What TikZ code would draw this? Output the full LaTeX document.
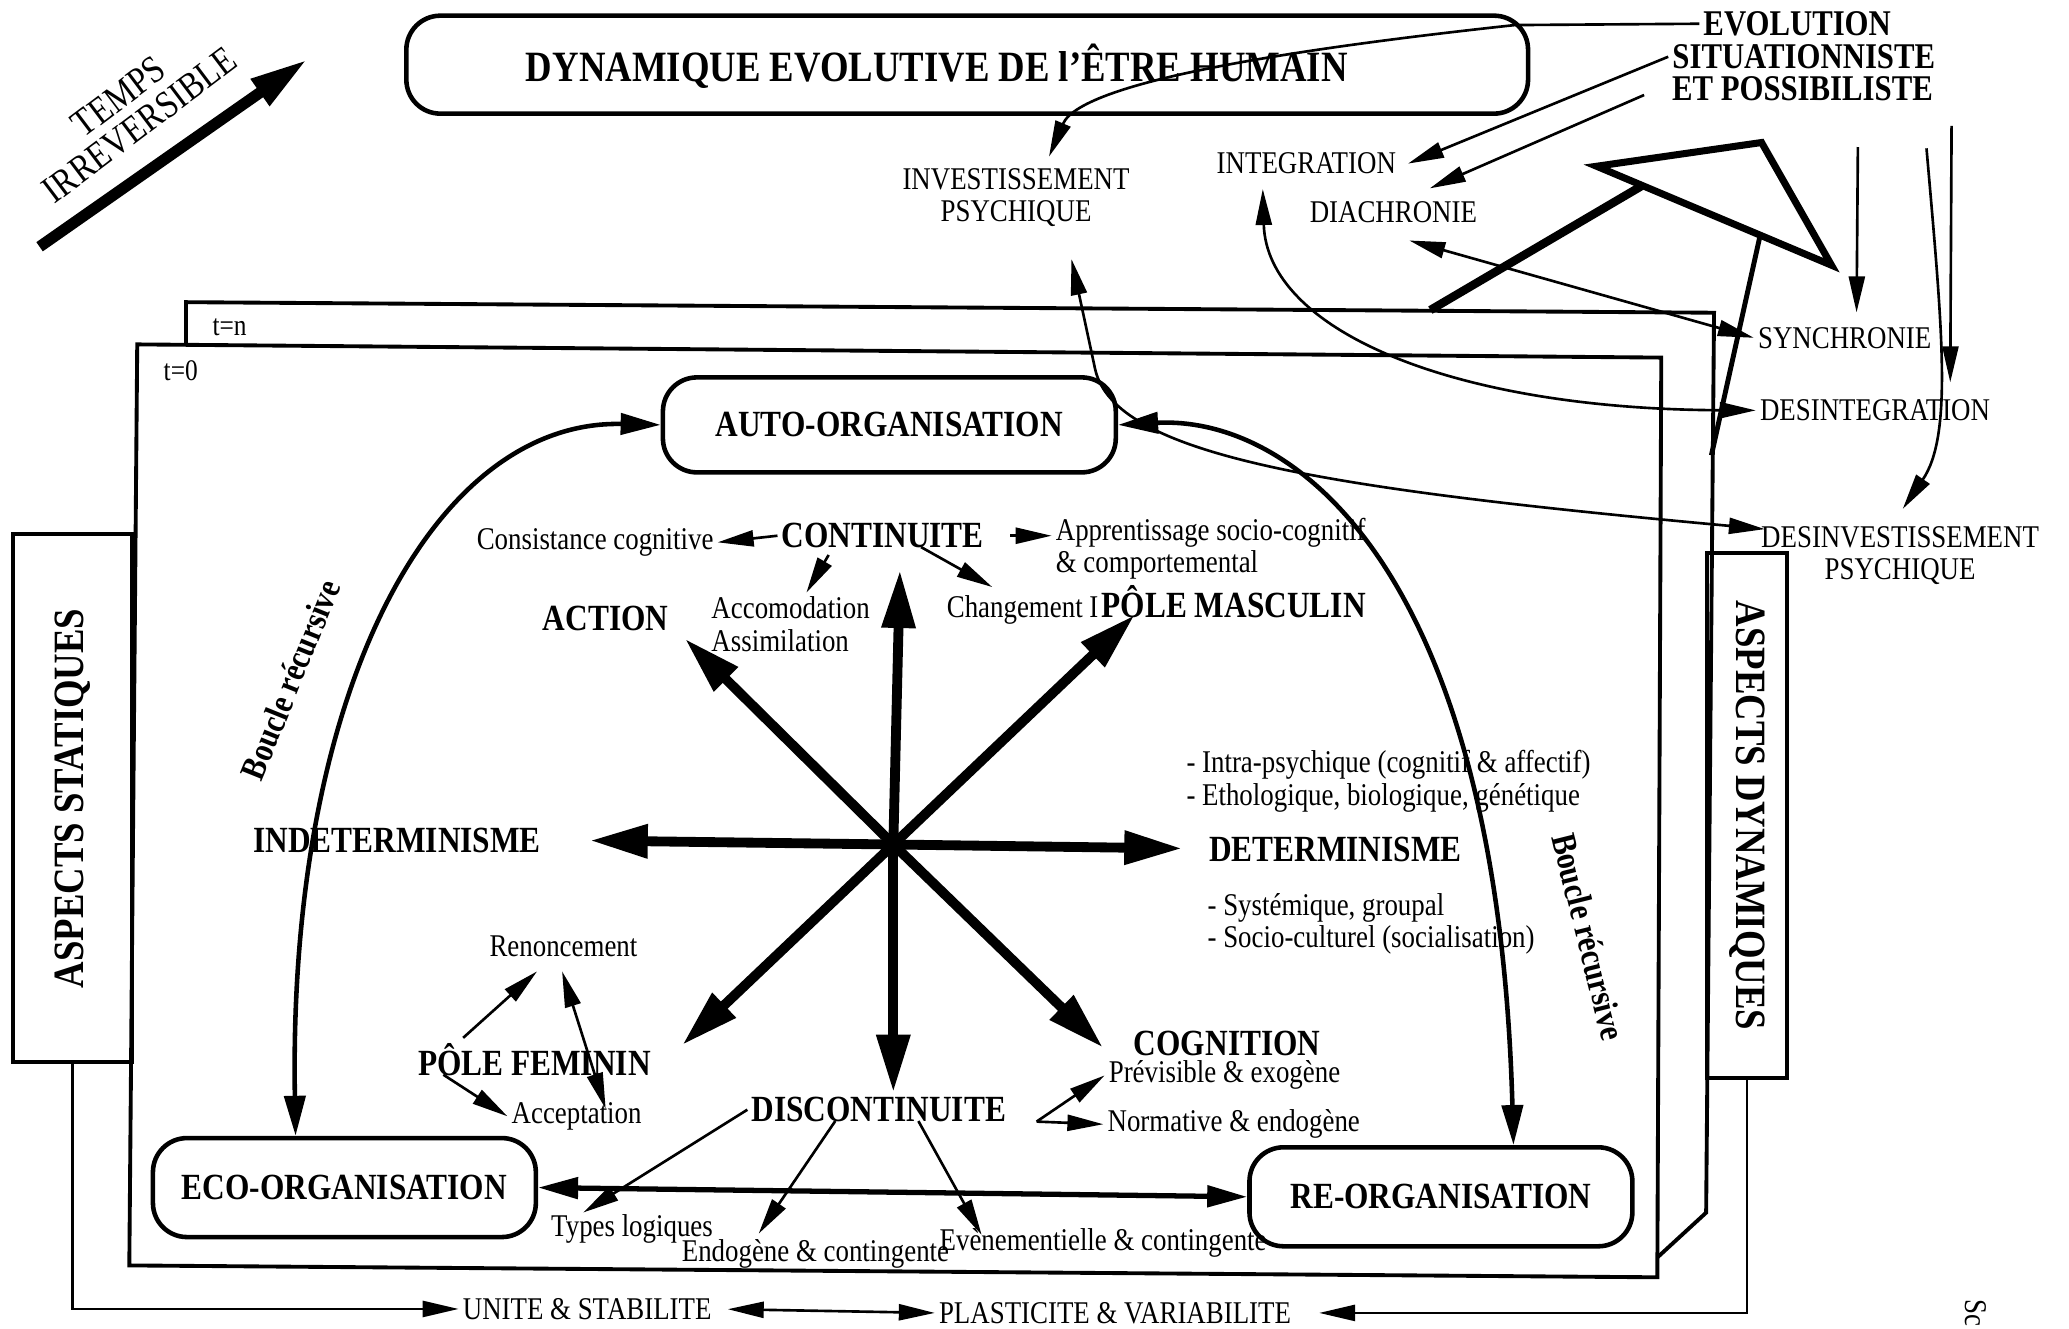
\documentclass[tikz,border=0pt]{standalone}
\usepackage{fontspec}
\setmainfont{Liberation Serif}[FakeStretch=0.85]
\usetikzlibrary{arrows.meta,calc}

\begin{document}
\begin{tikzpicture}[x=0.013195cm, y=-0.013195cm,
  fin/.tip={Triangle[length=3.6mm,width=1.6mm]},
  moy/.tip={Triangle[length=4mm,width=2.1mm]},
  gros/.tip={Triangle[length=5.8mm,width=3.2mm]},
  fleche/.style={line width=0.75pt, -fin},
  fleches/.style={line width=0.75pt, fin-fin},
  boucle/.style={line width=1.3pt, moy-moy},
  etoile/.style={line width=2.8pt, -gros},
  cadre/.style={line width=1.1pt},
  boite/.style={draw, line width=1.3pt, rounded corners=3.4mm},
  titre/.style={font=\fontsize{12.3}{14}\selectfont\bfseries, inner sep=1pt},
  lab/.style={font=\fontsize{10.5}{12}\selectfont\bfseries, inner sep=1pt},
  evo/.style={font=\fontsize{10.3}{11}\selectfont\bfseries, inner sep=1pt},
  txt/.style={font=\fontsize{9}{9.2}\selectfont, inner sep=1pt},
  petit/.style={font=\fontsize{8.5}{9}\selectfont, inner sep=1pt},
  asp/.style={draw, line width=1.1pt, font=\fontsize{12.3}{14}\selectfont\bfseries},
  bcl/.style={font=\fontsize{10}{12}\selectfont\bfseries, inner sep=1pt}]
  \useasboundingbox (0,0) rectangle (1568,1007);

  \coordinate (tq) at (30,187);
  \coordinate (tt) at (233,45);
  \draw[line width=3.2pt, -{Triangle[length=5.8mm,width=3mm]}] (tq) -- (tt);
  \node[font=\fontsize{11}{10}\selectfont, align=center, rotate=37] (temps) at (98,84) {TEMPS\\IRREVERSIBLE};

  \draw[cadre] (141,262) -- (141,229) -- (1299,237) -- (1293,919) -- (1256,953);
  \draw[cadre] (104,261) -- (1259,271) -- (1256,968) -- (98,959) -- cycle;
  \node[petit] (tn) at (174,248) {t=n};
  \node[petit] (t0) at (137,281) {t=0};

  \node[boite, minimum width=11.22cm, minimum height=0.98cm] (titre) at (733,49) {};
  \node[titre] (titretxt) at (710,50) {DYNAMIQUE EVOLUTIVE DE l'ÊTRE HUMAIN};

  \node[evo] (evo1) at (1362,18) {EVOLUTION};
  \node[evo] (evo2) at (1367,43) {SITUATIONNISTE};
  \node[evo] (evo3) at (1366,67) {ET POSSIBILISTE};

  \node[txt, align=center] (invest) at (770,150) {INVESTISSEMENT\\PSYCHIQUE};
  \node[txt] (integ) at (990,124) {INTEGRATION};
  \node[txt] (diachro) at (1056,161) {DIACHRONIE};
  \node[txt] (synchro) at (1398,256) {SYNCHRONIE};
  \node[txt] (desinteg) at (1421,311) {DESINTEGRATION};
  \node[txt, align=center] (desinvest) at (1440,421) {DESINVESTISSEMENT\\PSYCHIQUE};

  \draw[line width=2pt, line join=miter] (1210,126) -- (1335,108) -- (1388,201) -- cycle;
  \draw[line width=2.4pt] (1244,141) -- (1084,235);
  \draw[line width=1.4pt] (1334,178) -- (1297,345);

  \node[asp, rotate=90, minimum width=5.28cm, minimum height=1.19cm] (statiques) at (55,605) {ASPECTS STATIQUES};
  \node[asp, rotate=-90, minimum width=5.25cm, minimum height=0.8cm] (dynamiques) at (1324,618) {ASPECTS DYNAMIQUES};

  \node[boite, lab, minimum width=4.53cm, minimum height=0.95cm] (auto) at (674,322) {AUTO-ORGANISATION};
  \node[boite, lab, minimum width=3.83cm, minimum height=0.99cm] (eco) at (261,900) {ECO-ORGANISATION};
  \node[boite, lab, minimum width=3.83cm, minimum height=0.99cm] (reorg) at (1092,907) {RE-ORGANISATION};

  \node[lab] (cont) at (669,406) {CONTINUITE};
  \node[txt] (consist) at (451,411) {Consistance cognitive};
  \node[txt, anchor=west, align=left] (appr) at (797,416) {Apprentissage socio-cognitif\\\& comportemental};
  \node[txt, anchor=west, align=left] (accom) at (536,473) {Accomodation\\Assimilation};
  \node[txt] (chg) at (775,462) {Changement I};
  \node[lab] (action) at (459,469) {ACTION};
  \node[lab] (masc) at (935,456) {PÔLE MASCULIN};
  \node[txt, anchor=west, align=left] (intra) at (896,592) {- Intra-psychique (cognitif \& affectif)\\- Ethologique, biologique, génétique};
  \node[lab] (indet) at (301,637) {INDETERMINISME};
  \node[lab] (determ) at (1012,644) {DETERMINISME};
  \node[txt, anchor=west, align=left] (syst) at (912,700) {- Systémique, groupal\\- Socio-culturel (socialisation)};
  \node[txt] (renonc) at (427,717) {Renoncement};
  \node[lab] (fem) at (405,803) {PÔLE FEMININ};
  \node[txt] (accept) at (437,846) {Acceptation};
  \node[lab] (cogn) at (930,791) {COGNITION};
  \node[txt] (previs) at (928,815) {Prévisible \& exogène};
  \node[txt] (normat) at (935,852) {Normative \& endogène};
  \node[lab] (discont) at (666,841) {DISCONTINUITE};
  \node[txt] (types) at (479,931) {Types logiques};
  \node[txt] (endog) at (618,950) {Endogène \& contingente};
  \node[txt] (evenem) at (836,942) {Evènementielle \& contingente};
  \node[bcl, rotate=68] (bouclea) at (220,515) {Boucle récursive};
  \node[bcl, rotate=-76] (boucleb) at (1204,710) {Boucle récursive};
  \node[txt] (unite) at (445,992) {UNITE \& STABILITE};
  \node[txt] (plast) at (845,995) {PLASTICITE \& VARIABILITE};
  \node[txt, rotate=-90, anchor=west] (sc) at (1497,982) {Sc};

  \coordinate (hub) at (677,640);
  \coordinate (vN) at (682,432);
  \coordinate (vS) at (677,828);
  \coordinate (vE) at (896,643);
  \coordinate (vW) at (447,637);
  \coordinate (vNE) at (860,466);
  \coordinate (vSW) at (517,792);
  \coordinate (vNW) at (519,484);
  \coordinate (vSE) at (836,794);
  \foreach \v in {vN,vS,vE,vW,vNE,vSW,vNW,vSE}
    \draw[etoile] (hub) -- (\v);

  \draw[boucle] ($(eco.north)+(-37,0)$) .. controls (218,520) and (330,318) .. (auto.west);
  \draw[boucle] (auto.east) .. controls (980,315) and (1135,430) .. ($(reorg.north)+(55,0)$);
  \draw[line width=1.5pt, moy-moy] (eco.east) -- (reorg.west);

  \draw[fleche] (cont.west) -- (consist.east);
  \draw[fleche, shorten <=2.2mm] (cont.east) -- (cont.east -| appr.west);
  \draw[fleche] ($(cont.south)+(-41,2)$) -- ($(accom.north)+(12,0)$);
  \draw[fleche] ($(cont.south)+(29,-4)$) -- ($(chg.north)+(-23,-3)$);
  \draw[fleche] ($(fem.north)+(-54,-1)$) -- ($(renonc.south)+(-20,8)$);
  \draw[fleche] ($(fem.south)+(-69,-4)$) -- (accept.west);
  \draw[fleches] ($(renonc.south)+(-1,8)$) -- ($(accept.north)+(22,8)$);
  \draw[fleche] (discont.west) -- ($(types.north)+(-37,2)$);
  \draw[fleche] ($(discont.south)+(-33,-4)$) -- ($(endog.north)+(-43,-1)$);
  \draw[fleche] ($(discont.south)+(30,-4)$) -- ($(evenem.north west)+(35,8)$);
  \coordinate (fourche) at ($(discont.east)+(20,9)$);
  \draw[fleche] (fourche) -- (previs.west);
  \draw[fleche] (fourche) -- (normat.west);

  \draw[fleche] (evo1.west) -- (1148,19) .. controls (1000,35) and (820,60) .. ($(invest.north)+(25,-6)$);
  \draw[fleche] (evo2.west) -- ($(integ.east)+(6,0)$);
  \draw[fleche] ($(evo3.west)+(-18,5)$) -- ($(diachro.north east)+(-39,-7)$);
  \draw[fleches] ($(diachro.south)+(12,10)$) -- (synchro.west);
  \draw[fleches] ($(integ.south)+(-33,8)$) .. controls (960,250) and (1100,310) .. (desinteg.west);
  \draw[fleches] ($(invest.south)+(42,21)$) -- (830,280) .. controls (845,345) and (1000,370) .. ($(desinvest.west)+(6,-20)$);
  \draw[fleche] ($(evo3.south)+(42,32)$) -- ($(synchro.north)+(9,-8)$);
  \draw[fleche] ($(evo3.south)+(113,16)$) -- ($(desinteg.north)+(57,-10)$);
  \draw[fleche] ($(evo3.south)+(94,33)$) .. controls (1472,250) and (1480,330) .. ($(desinvest.north)+(2,-10)$);

  \draw[fleche] (statiques.west) |- (unite.west);
  \draw[fleche, shorten >=2.4mm] (dynamiques.east) |- (plast.east);
  \draw[fleches, shorten <=1.2mm] (unite.east) -- (plast.west);
\end{tikzpicture}
\end{document}
